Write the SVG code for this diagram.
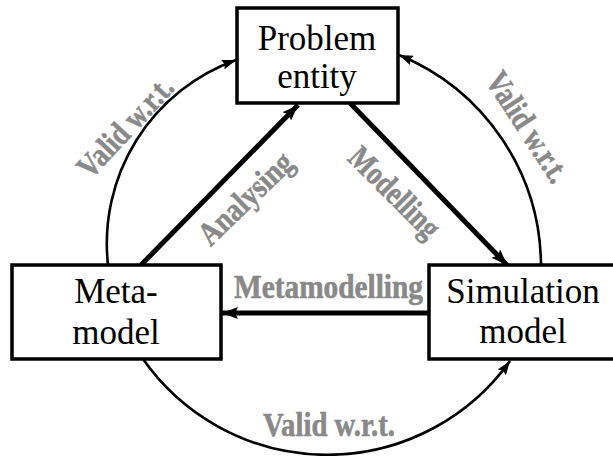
<svg xmlns="http://www.w3.org/2000/svg" width="613" height="456" viewBox="0 0 613 456">
<style>
.box{fill:#fff;stroke:#000;stroke-width:3.5}
.nt{font-family:"Liberation Serif","Times New Roman",serif;font-size:35px;fill:#000;text-anchor:middle}
.lb{font-family:"Liberation Serif","Times New Roman",serif;font-size:33px;font-weight:bold;fill:#898989;stroke:#898989;stroke-width:0.6;text-anchor:middle}
.thick{fill:none;stroke:#000;stroke-width:5}
.thin{fill:none;stroke:#000;stroke-width:2.6}
</style>
<defs>
<marker id="hb" markerUnits="userSpaceOnUse" viewBox="0 0 16 12" refX="16" refY="6" markerWidth="16" markerHeight="12" orient="auto">
<path d="M0,0 L16,6 L0,12 L3,6 Z" fill="#000"/>
</marker>
<marker id="hs" markerUnits="userSpaceOnUse" viewBox="0 0 14 10" refX="14" refY="5" markerWidth="14" markerHeight="10" orient="auto">
<path d="M0,0 L14,5 L0,10 L2,5 Z" fill="#000"/>
</marker>
</defs>
<rect width="613" height="456" fill="#fff"/>
<g id="connectors">
<path class="thin" d="M108,265 A195,195 0 0 1 236,60" marker-end="url(#hs)"/>
<path class="thin" d="M541,265 A229,229 0 0 0 399,55" marker-end="url(#hs)"/>
<path class="thin" d="M143,359 A225,225 0 0 0 510,361" marker-end="url(#hs)"/>
<path class="thick" d="M141,265 L298,105" marker-end="url(#hb)"/>
<path class="thick" d="M350,103 L507,265" marker-end="url(#hb)"/>
<path class="thick" d="M429,313 L222,313" marker-end="url(#hb)"/>
<text class="lb" transform="translate(125,127) rotate(-47)" y="11" textLength="125" lengthAdjust="spacingAndGlyphs">Valid w.r.t.</text>
<text class="lb" transform="translate(528,127) rotate(57)" y="11" textLength="125" lengthAdjust="spacingAndGlyphs">Valid w.r.t.</text>
<text class="lb" transform="translate(246,199) rotate(-44)" y="10" textLength="118" lengthAdjust="spacingAndGlyphs">Analysing</text>
<text class="lb" transform="translate(394,193) rotate(45)" y="10" textLength="115" lengthAdjust="spacingAndGlyphs">Modelling</text>
<text class="lb" x="328.5" y="298" textLength="189" lengthAdjust="spacingAndGlyphs">Metamodelling</text>
<text class="lb" x="329" y="436" textLength="132" lengthAdjust="spacingAndGlyphs">Valid w.r.t.</text>
</g>
<g id="problem-entity">
<rect class="box" x="237" y="8" width="161" height="95"/>
<text class="nt" x="317" y="50">Problem</text>
<text class="nt" x="317" y="88">entity</text>
</g>
<g id="meta-model">
<rect class="box" x="12" y="265" width="209" height="94"/>
<text class="nt" x="116" y="303">Meta-</text>
<text class="nt" x="116" y="344">model</text>
</g>
<g id="simulation-model">
<rect class="box" x="429" y="265" width="190" height="94"/>
<text class="nt" x="523" y="303">Simulation</text>
<text class="nt" x="523" y="343">model</text>
</g>
</svg>
